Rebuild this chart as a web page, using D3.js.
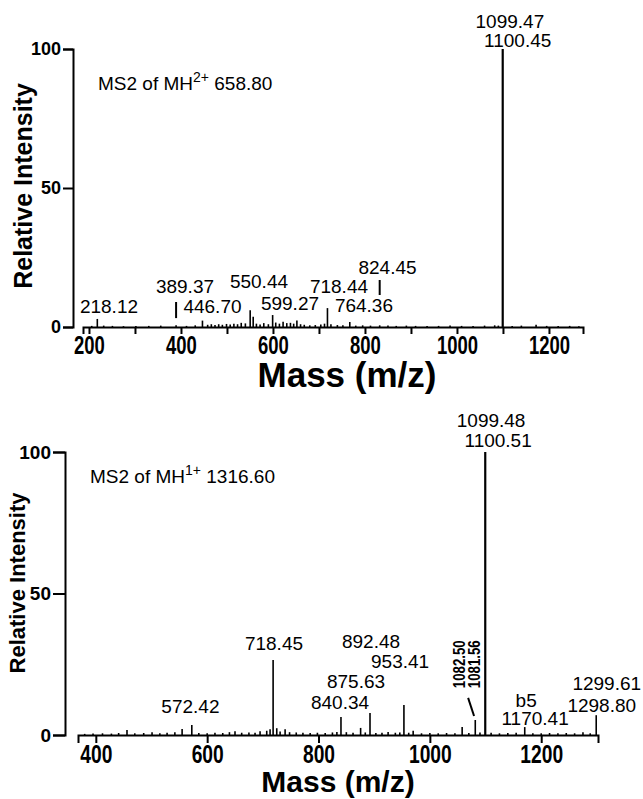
<!DOCTYPE html>
<html>
<head>
<meta charset="utf-8">
<script src="https://cdn.jsdelivr.net/npm/d3@7"></script>
<style>
    body { margin: 0; background: #fff; }
    svg { display: block; font-family: "Liberation Sans", Arial, sans-serif; }
    .peak { stroke: #000; stroke-width: 1.6; }
    .peak.big { stroke-width: 2.2; }
    .axis path, .axis line { stroke: #000; stroke-width: 2; }
    .lbl { font-size: 19px; fill: #000; }
</style>
</head>
<body>
<svg id="chart" width="643" height="799"></svg>
<script>
"use strict";

// data: top spectrum, MS2 of MH2+ 658.80
const topMz = [206, 218.12, 232, 251, 275, 302, 330, 356, 389.37, 412, 431, 446.70, 458, 466, 474, 482, 490, 499, 507, 515, 523, 531, 540,
               550.44, 557, 564, 572, 580, 590, 599.27, 606, 614, 622, 630, 638, 645, 652, 660, 668, 680, 692, 704, 712, 718.44, 726,
               740, 752, 767, 780, 795, 812, 832, 850, 868, 890, 910, 935, 960, 985, 1010, 1035, 1060, 1082, 1090, 1099.47,
               1120, 1140, 1172, 1195, 1220, 1245, 1265];
const topIntensity = [0.4, 2.9, 0.5, 0.4, 0.3, 0.4, 0.4, 0.5, 0.6, 0.4, 0.6, 2.3, 0.8, 1.0, 0.7, 1.0, 0.8, 1.1, 0.9, 1.2, 1.0, 1.5, 1.3,
                      6.0, 3.7, 1.2, 0.9, 1.4, 1.0, 4.3, 1.6, 1.2, 1.9, 1.4, 1.5, 1.2, 2.3, 1.0, 0.8, 0.6, 0.7, 0.9, 1.2, 6.8, 1.0,
                      0.7, 0.6, 1.8, 0.5, 0.6, 0.5, 0.6, 0.5, 0.4, 0.5, 0.4, 0.4, 0.4, 0.5, 0.4, 0.4, 0.5, 0.6, 0.5, 100,
                      0.4, 0.5, 0.8, 0.4, 0.4, 0.4, 0.3];
// [text, centre m/z, baseline intensity]
const topLabels = [
    ["1099.47", 1115, 107.6], ["1100.45", 1132, 100.7],
    ["218.12", 243.5, 5.0], ["389.37", 408.7, 12.2], ["446.70", 468.5, 5.0],
    ["550.44", 569.6, 14.0], ["599.27", 637, 6.1], ["718.44", 743.5, 12.2],
    ["764.36", 797.8, 5.4], ["824.45", 849, 19.1]
];
// leader marks [m/z, from, to]
const topLeaders = [[389.37, 3.2, 9.0], [832, 11.5, 16.9]];
const topTicks = [200, 300, 400, 500, 600, 700, 800, 900, 1000, 1100, 1200];

// data: bottom spectrum, MS2 of MH1+ 1316.60
const bottomMz = [380, 395, 412, 428, 441, 456, 470, 486, 501, 515, 528, 542, 555, 572.42, 585, 600, 614, 628, 640, 650, 662, 675, 686,
                  695, 707, 713, 718.45, 725, 731, 740, 748, 760, 772, 785, 798, 812, 825, 833, 840.34, 850, 862, 875.63, 884,
                  892.48, 903, 914, 925, 938, 946, 953.41, 962, 970, 985, 1000, 1015, 1030, 1045, 1058, 1070, 1081.56, 1090,
                  1099.48, 1110, 1125, 1140, 1155, 1170.41, 1185, 1200, 1215, 1230, 1245, 1260, 1275, 1288, 1298.80];
const bottomIntensity = [0.4, 0.5, 0.6, 0.5, 0.7, 1.8, 0.6, 0.7, 1.0, 0.6, 0.8, 1.0, 2.1, 3.5, 0.7, 0.6, 0.8, 0.7, 1.0, 1.3, 0.8, 0.9, 0.8,
                         1.3, 1.5, 2.0, 26.5, 2.4, 1.2, 2.0, 1.0, 0.9, 0.8, 0.7, 0.8, 0.7, 0.9, 1.1, 6.4, 1.0, 0.8, 2.5, 0.9,
                         7.8, 0.7, 0.8, 1.1, 0.8, 0.9, 10.6, 0.8, 1.5, 0.6, 0.7, 0.6, 0.7, 0.6, 2.8, 0.7, 5.3, 0.9,
                         100, 0.8, 0.6, 0.7, 0.8, 2.8, 0.6, 0.6, 0.7, 0.6, 0.7, 0.6, 1.0, 0.6, 7.0];
const bottomLabels = [
    ["1099.48", 1110, 108.8], ["1100.51", 1122.6, 101.8],
    ["572.42", 569.9, 7.8], ["718.45", 720, 30], ["840.34", 838.6, 9.2],
    ["875.63", 867.4, 16.6], ["892.48", 894.3, 30.7], ["953.41", 946.5, 23.7],
    ["b5", 1173, 9.9], ["1170.41", 1189, 3.5], ["1299.61", 1317.7, 15.9], ["1298.80", 1308.7, 8.1]
];
// rotated labels [text, m/z of baseline, centre intensity]
const bottomRotLabels = [["1082.50", 1063, 25], ["1081.56", 1090, 25]];
// slanted leader [m/z1, int1, m/z2, int2]
const bottomLeaders = [[1068.7, 13.1, 1079.4, 6.7]];
const bottomTicks = [400, 600, 800, 1000, 1200];
const yTicks = [0, 50, 100];


function spectrum(svg, mz, intensity, labels, s) {

    let g = svg.append("g");

    // scales
    let scaleX = d3.scaleLinear().domain(s.xDomain).range([s.left, s.right]);
    let scaleY = d3.scaleLinear().domain([0, 100]).range([s.bottom, s.top]);

    // x axis
    let xAxis = g.append("g")
    .attr("class", "axis")
    .attr("transform", `translate(0, ${s.bottom})`)
    .call(d3.axisBottom(scaleX).tickValues(s.xTicks).tickSizeOuter(0).tickSize(s.xTickSize).tickPadding(2)
        .tickFormat(d => d % 200 === 0 ? d : ""));
    xAxis.selectAll("text")
    .attr("font-family", "'Liberation Sans', Arial, sans-serif")
    .attr("font-weight", "bold")
    .attr("font-size", s.xTickFont)
    .attr("fill", "#000")
    .attr("transform", "scale(0.74, 1)");

    // y axis
    let yAxis = g.append("g")
    .attr("class", "axis")
    .attr("transform", `translate(${s.yAxisX}, 0)`)
    .call(d3.axisLeft(scaleY).tickValues(yTicks).tickSizeOuter(0).tickSize(s.yTickSize).tickPadding(2));
    yAxis.selectAll("text")
    .attr("font-family", "'Liberation Sans', Arial, sans-serif")
    .attr("font-weight", "bold")
    .attr("font-size", s.yTickFont)
    .attr("fill", "#000");

    // peaks
    let peaks = mz.map((m, i) => ({mz: m, v: intensity[i]}));
    g.selectAll("line.peak")
    .data(peaks)
    .enter()
    .append("line")
    .attr("class", d => d.v > 50 ? "peak big" : "peak")
    .attr("x1", d => scaleX(d.mz))
    .attr("x2", d => scaleX(d.mz))
    .attr("y1", scaleY(0))
    .attr("y2", d => scaleY(d.v));

    // peak labels
    g.selectAll("text.lbl")
    .data(labels)
    .enter()
    .append("text")
    .attr("class", "lbl")
    .attr("text-anchor", "middle")
    .attr("x", d => scaleX(d[1]))
    .attr("y", d => scaleY(d[2]))
    .text(d => d[0]);

    // y label
    svg.append("text")
    .attr("transform", `translate(${s.yLabelX}, ${s.yLabelY}) rotate(-90)`)
    .attr("text-anchor", "middle")
    .attr("font-weight", "bold")
    .attr("font-size", s.yLabelFont)
    .text("Relative Intensity");

    // x label
    svg.append("text")
    .attr("x", s.xLabelX)
    .attr("y", s.xLabelY)
    .attr("text-anchor", "middle")
    .attr("font-weight", "bold")
    .attr("font-size", s.xLabelFont)
    .text("Mass (m/z)");

    // title
    let t = svg.append("text")
    .attr("x", s.titleX)
    .attr("y", s.titleY)
    .attr("font-size", 19);
    t.append("tspan").text("MS2 of MH");
    t.append("tspan").attr("font-size", 14).attr("dy", -8).text(s.charge);
    t.append("tspan").attr("dy", 8).text(" " + s.precursor);

    return {scaleX: scaleX, scaleY: scaleY, g: g};
}


let svg = d3.select("#chart");

// top chart
let topChart = spectrum(svg, topMz, topIntensity, topLabels, {
    xDomain: [187, 1274], left: 83, right: 583, top: 49, bottom: 327,
    xTicks: topTicks, xTickSize: 7, xTickFont: 25, yAxisX: 73, yTickSize: 10, yTickFont: 18,
    yLabelX: 32, yLabelY: 186, yLabelFont: 25, xLabelX: 347, xLabelY: 387, xLabelFont: 35,
    titleX: 98, titleY: 90, charge: "2+", precursor: "658.80"
});
topChart.g.selectAll("line.leader")
.data(topLeaders)
.enter()
.append("line")
.attr("stroke", "#000")
.attr("stroke-width", 2)
.attr("x1", d => topChart.scaleX(d[0]))
.attr("x2", d => topChart.scaleX(d[0]))
.attr("y1", d => topChart.scaleY(d[1]))
.attr("y2", d => topChart.scaleY(d[2]));

// bottom chart
let botChart = spectrum(svg, bottomMz, bottomIntensity, bottomLabels, {
    xDomain: [368, 1302], left: 78, right: 598, top: 452, bottom: 735,
    xTicks: bottomTicks, xTickSize: 8, xTickFont: 26, yAxisX: 65, yTickSize: 12, yTickFont: 19,
    yLabelX: 25, yLabelY: 583, yLabelFont: 22, xLabelX: 338, xLabelY: 792, xLabelFont: 30,
    titleX: 90, titleY: 483, charge: "1+", precursor: "1316.60"
});
botChart.g.selectAll("text.rot")
.data(bottomRotLabels)
.enter()
.append("text")
.attr("class", "rot")
.attr("text-anchor", "middle")
.attr("font-weight", "bold")
.attr("font-size", 17)
.attr("transform", d => `translate(${botChart.scaleX(d[1])}, ${botChart.scaleY(d[2])}) rotate(-90) scale(0.78, 1)`)
.text(d => d[0]);
botChart.g.selectAll("line.leader")
.data(bottomLeaders)
.enter()
.append("line")
.attr("stroke", "#000")
.attr("stroke-width", 2)
.attr("x1", d => botChart.scaleX(d[0]))
.attr("y1", d => botChart.scaleY(d[1]))
.attr("x2", d => botChart.scaleX(d[2]))
.attr("y2", d => botChart.scaleY(d[3]));
</script>
</body>
</html>
